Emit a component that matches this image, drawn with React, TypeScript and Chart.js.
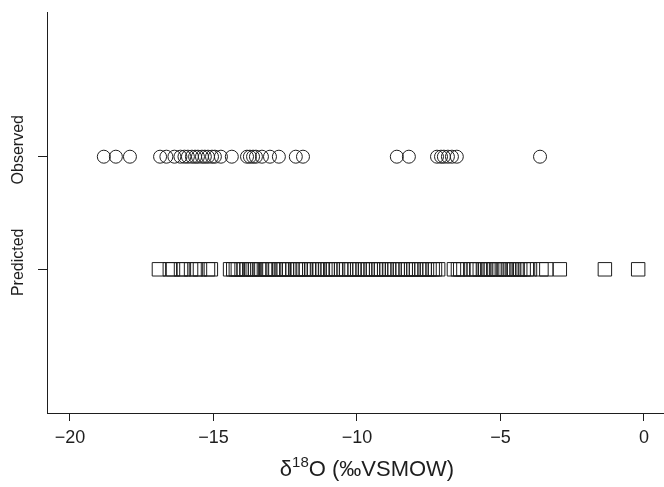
import React, { useEffect, useRef } from "react";
import { Chart, registerables } from "chart.js";

Chart.register(...registerables);

const categories = ["Predicted", "Observed"];

const observedValues = [
  -18.82, -18.4, -17.91, -16.86, -16.64, -16.36, -16.15, -16.01, -15.89, -15.75,
  -15.64, -15.54, -15.4, -15.3, -15.19, -15.05, -14.95, -14.74, -14.36, -13.83,
  -13.73, -13.62, -13.52, -13.31, -13.03, -12.72, -12.13, -11.88, -8.61, -8.19,
  -7.21, -7.07, -6.97, -6.83, -6.69, -6.52, -3.62,
];

const predictedValues = [
  -16.9, -16.52, -16.41, -16.13, -16.03, -15.78, -15.61, -15.47, -15.19, -15.09,
  -14.42, -14.31, -14.22, -14.15, -14.02, -13.94, -13.85, -13.71, -13.63, -13.55,
  -13.41, -13.33, -13.2, -13.12, -13.05, -12.93, -12.84, -12.71, -12.62, -12.55,
  -12.44, -12.36, -12.25, -12.13, -12.06, -11.97, -11.86, -11.78, -11.66, -11.58,
  -11.49, -11.37, -11.3, -11.21, -11.1, -11.02, -10.93, -10.84, -10.72, -10.55,
  -10.46, -10.38, -10.27, -10.19, -10.08, -9.99, -9.91, -9.8, -9.71, -9.63,
  -9.52, -9.44, -9.33, -9.25, -9.16, -9.05, -8.97, -8.88, -8.77, -8.69,
  -8.58, -8.5, -8.41, -8.3, -8.22, -8.11, -8.03, -7.94, -7.83, -7.75,
  -7.64, -7.56, -7.47, -7.36, -7.28, -7.17, -6.62, -6.48, -6.4, -6.29,
  -6.05, -5.93, -5.84, -5.72, -5.61, -5.53, -5.42, -5.33, -5.21, -5.12,
  -5.03, -4.91, -4.82, -4.71, -4.6, -4.52, -4.4, -4.31, -4.19, -4.08,
  -3.97, -3.57, -3.4, -2.93, -1.36, -0.2,
];

const xTicks = [-20, -15, -10, -5, 0];
const yTicks = [1, 2];

const INK = "#1e1e1e";
const FONT = "'Liberation Sans', Arial, Helvetica, sans-serif";

const overlayPlugin = {
  id: "overlayText",
  afterDraw(chart: any) {
    const ctx = chart.ctx as CanvasRenderingContext2D;
    const yScale = chart.scales.y;
    ctx.save();
    ctx.fillStyle = INK;
    // rotated category labels
    ctx.font = `16px ${FONT}`;
    ctx.textAlign = "center";
    ctx.textBaseline = "middle";
    yTicks.forEach((v, i) => {
      const py = yScale.getPixelForValue(v);
      ctx.save();
      ctx.translate(19, py - 7);
      ctx.rotate(-Math.PI / 2);
      ctx.fillText(categories[i], 0, 0);
      ctx.restore();
    });
    // axis title with superscript
    const big = `22px ${FONT}`;
    const small = `15px ${FONT}`;
    const p1 = "\u03b4";
    const p2 = "18";
    const p3 = "O (\u2030VSMOW)";
    ctx.textAlign = "left";
    ctx.textBaseline = "alphabetic";
    ctx.font = big;
    const w1 = ctx.measureText(p1).width;
    const w3 = ctx.measureText(p3).width;
    ctx.font = small;
    const w2 = ctx.measureText(p2).width;
    const total = w1 + w2 + w3;
    const cx = 367;
    let x = cx - total / 2;
    const base = 476;
    ctx.font = big;
    ctx.fillText(p1, x, base);
    x += w1;
    ctx.font = small;
    ctx.fillText(p2, x, base - 9);
    x += w2;
    ctx.font = big;
    ctx.fillText(p3, x, base);
    ctx.restore();
  },
};

export default function App() {
  const ref = useRef<HTMLCanvasElement | null>(null);

  useEffect(() => {
    if (!ref.current) return;
    const chart = new Chart(ref.current, {
      type: "scatter",
      data: {
        datasets: [
          {
            label: categories[1],
            data: observedValues.map((v) => ({ x: v, y: 2 })),
            pointStyle: "circle",
            pointRadius: 6.5,
            borderColor: INK,
            backgroundColor: "rgba(255,255,255,0)",
            borderWidth: 1,
          },
          {
            label: categories[0],
            data: predictedValues.map((v) => ({ x: v, y: 1 })),
            pointStyle: "rect",
            pointRadius: 9.5,
            borderColor: INK,
            backgroundColor: "rgba(255,255,255,0)",
            borderWidth: 1,
          },
        ],
      },
      options: {
        responsive: false,
        animation: false,
        events: [],
        layout: { autoPadding: false, padding: { top: 12, left: 0, right: 0, bottom: 0 } },
        plugins: {
          legend: { display: false },
          tooltip: { enabled: false },
          title: { display: false },
        },
        scales: {
          x: {
            type: "linear",
            min: -20.8,
            max: 0.7,
            afterBuildTicks: (s: any) => {
              s.ticks = xTicks.map((v) => ({ value: v }));
            },
            afterFit: (s: any) => {
              s.height = 74;
            },
            grid: {
              display: true,
              drawOnChartArea: false,
              drawTicks: true,
              tickLength: 8,
              color: INK,
              lineWidth: 1,
            },
            border: { display: true, color: INK, width: 1 },
            ticks: {
              color: INK,
              padding: 6,
              maxRotation: 0,
              font: { family: FONT, size: 18 },
              callback: (v: any) => (v < 0 ? "\u2212" + Math.abs(v) : String(v)),
            },
          },
          y: {
            type: "linear",
            min: -0.276,
            max: 3.285,
            afterBuildTicks: (s: any) => {
              s.ticks = yTicks.map((v) => ({ value: v }));
            },
            afterFit: (s: any) => {
              s.width = 47;
            },
            grid: {
              display: true,
              drawOnChartArea: false,
              drawTicks: true,
              tickLength: 9,
              color: INK,
              lineWidth: 1,
            },
            border: { display: true, color: INK, width: 1 },
            ticks: { display: false },
          },
        },
      },
      plugins: [overlayPlugin],
    });
    return () => chart.destroy();
  }, []);

  return (
    <div style={{ position: "fixed", left: 0, top: 0, width: 664, height: 487, background: "#fff" }}>
      <canvas ref={ref} width={664} height={487} style={{ width: 664, height: 487, display: "block" }} />
    </div>
  );
}
